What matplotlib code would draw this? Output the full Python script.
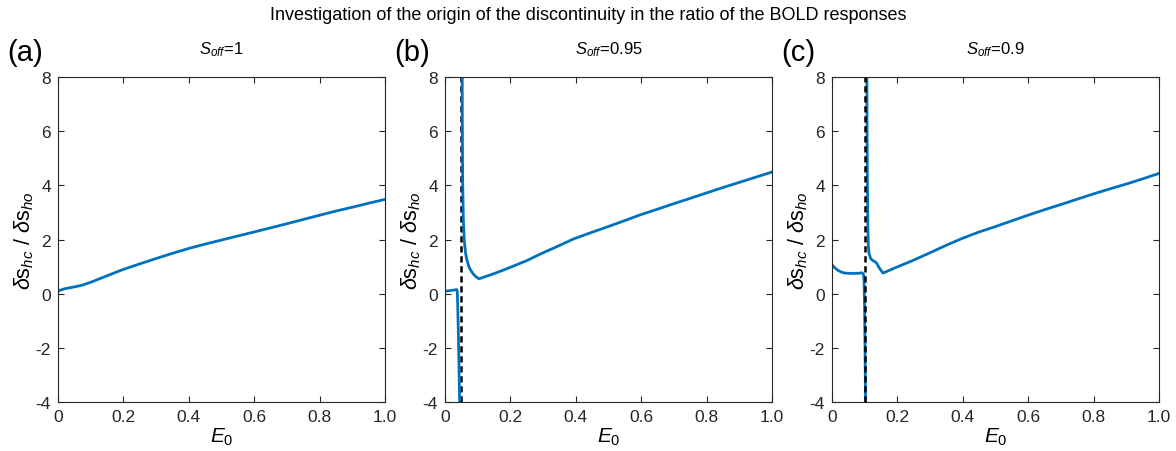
import matplotlib

matplotlib.use("Agg")
import matplotlib.pyplot as plt

plt.rcParams["font.family"] = ["Liberation Sans", "DejaVu Sans"]
plt.rcParams["mathtext.fontset"] = "custom"
plt.rcParams["mathtext.rm"] = "Liberation Sans"
plt.rcParams["mathtext.it"] = "Liberation Sans:italic"
plt.rcParams["mathtext.bf"] = "Liberation Sans:bold"
plt.rcParams["axes.unicode_minus"] = False

BLUE = "#0072BD"

# panel (a): S_off = 1, single smooth curve
a_x = [0.0, 0.02, 0.05, 0.073, 0.1, 0.15, 0.196, 0.25, 0.298, 0.35, 0.4, 0.45, 0.5,
       0.55, 0.604, 0.65, 0.706, 0.75, 0.808, 0.85, 0.91, 0.95, 1.0]
a_y = [0.1, 0.18, 0.25, 0.31, 0.42, 0.66, 0.88, 1.1, 1.29, 1.49, 1.67, 1.83, 1.98,
       2.13, 2.29, 2.43, 2.6, 2.74, 2.92, 3.05, 3.22, 3.34, 3.48]

# panel (b): S_off = 0.95
b_left_x = [0.0, 0.02, 0.036, 0.0375, 0.039, 0.041, 0.043, 0.045, 0.046]
b_left_y = [0.09, 0.12, 0.15, 0.1, -0.5, -1.5, -2.8, -4.2, -5.0]
b_right_x = [0.0525, 0.053, 0.054, 0.056, 0.059, 0.063, 0.066, 0.072, 0.077, 0.085,
             0.093, 0.104, 0.15, 0.189, 0.25, 0.291, 0.35, 0.393, 0.45, 0.495, 0.55,
             0.597, 0.65, 0.699, 0.75, 0.8, 0.85, 0.903, 0.95, 1.0]
b_right_y = [9.0, 6.5, 4.2, 2.8, 1.95, 1.5, 1.3, 1.03, 0.9, 0.75, 0.64, 0.55, 0.74,
             0.92, 1.22, 1.46, 1.78, 2.02, 2.27, 2.46, 2.7, 2.91, 3.12, 3.32, 3.52,
             3.72, 3.92, 4.12, 4.3, 4.49]
b_disc = 0.05

# panel (c): S_off = 0.9
c_left_x = [0.0, 0.008, 0.018, 0.03, 0.04, 0.055, 0.069, 0.082, 0.092, 0.096, 0.098,
            0.0995, 0.101, 0.102, 0.103]
c_left_y = [1.07, 0.96, 0.86, 0.79, 0.76, 0.75, 0.75, 0.755, 0.77, 0.72, 0.5,
            -0.5, -2.0, -3.3, -4.6]
c_right_x = [0.1065, 0.107, 0.108, 0.1095, 0.111, 0.113, 0.118, 0.125, 0.133, 0.138,
             0.143, 0.15, 0.156, 0.192, 0.25, 0.294, 0.35, 0.396, 0.45, 0.498, 0.55,
             0.6, 0.65, 0.702, 0.75, 0.804, 0.85, 0.906, 0.95, 1.0]
c_right_y = [9.0, 6.5, 4.5, 2.6, 1.8, 1.5, 1.3, 1.22, 1.17, 1.1, 0.98, 0.86, 0.76,
             0.95, 1.24, 1.48, 1.79, 2.03, 2.28, 2.47, 2.69, 2.9, 3.1, 3.3, 3.49,
             3.7, 3.87, 4.07, 4.24, 4.44]
c_disc = 0.1

panel_letters = ["(a)", "(b)", "(c)"]
panel_titles = [r"$S_{off}$=1", r"$S_{off}$=0.95", r"$S_{off}$=0.9"]
x_ticks = [0, 0.2, 0.4, 0.6, 0.8, 1.0]
x_tick_labels = ["0", "0.2", "0.4", "0.6", "0.8", "1.0"]
y_ticks = [-4, -2, 0, 2, 4, 6, 8]


def style_axes(ax):
    ax.set_xlim(0, 1)
    ax.set_ylim(-4, 8)
    ax.set_xticks(x_ticks)
    ax.set_xticklabels(x_tick_labels)
    ax.set_yticks(y_ticks)
    ax.tick_params(direction="in", top=True, right=True, length=4, width=0.8,
                   labelsize=12.5, colors="#262626")
    ax.tick_params(axis="x", pad=5)
    ax.tick_params(axis="y", pad=5)
    for spine in ax.spines.values():
        spine.set_color("#262626")
        spine.set_linewidth(0.8)
    ax.set_xlabel(r"$E_0$", fontsize=15, labelpad=1)
    ax.set_ylabel(r"$\delta\mathrm{s}_{hc}$ / $\delta\mathrm{s}_{ho}$", fontsize=15.5, labelpad=0)


fig = plt.figure(figsize=(11.76, 4.52), dpi=100)
lefts = [0.0493, 0.3784, 0.7075]
axes = [fig.add_axes([l, 0.1084, 0.278, 0.719]) for l in lefts]

axes[0].plot(a_x, a_y, color=BLUE, lw=2)

axes[1].axvline(b_disc, color="black", ls=(0, (2.5, 1.5)), lw=1.8)
axes[1].plot(b_left_x, b_left_y, color=BLUE, lw=2)
axes[1].plot(b_right_x, b_right_y, color=BLUE, lw=2)

axes[2].plot(c_left_x, c_left_y, color=BLUE, lw=2)
axes[2].plot(c_right_x, c_right_y, color=BLUE, lw=2)
axes[2].axvline(c_disc, color="black", ls=(0, (2.5, 1.5)), lw=1.8)

for ax, letter, title in zip(axes, panel_letters, panel_titles):
    style_axes(ax)
    ax.set_title(title, fontsize=12, pad=17)
    ax.text(-0.155, 1.035, letter, transform=ax.transAxes, fontsize=21,
            ha="left", va="bottom")

fig.suptitle("Investigation of the origin of the discontinuity in the ratio of the BOLD responses",
             fontsize=13, y=0.985)

fig.savefig("out.png", dpi=100)
